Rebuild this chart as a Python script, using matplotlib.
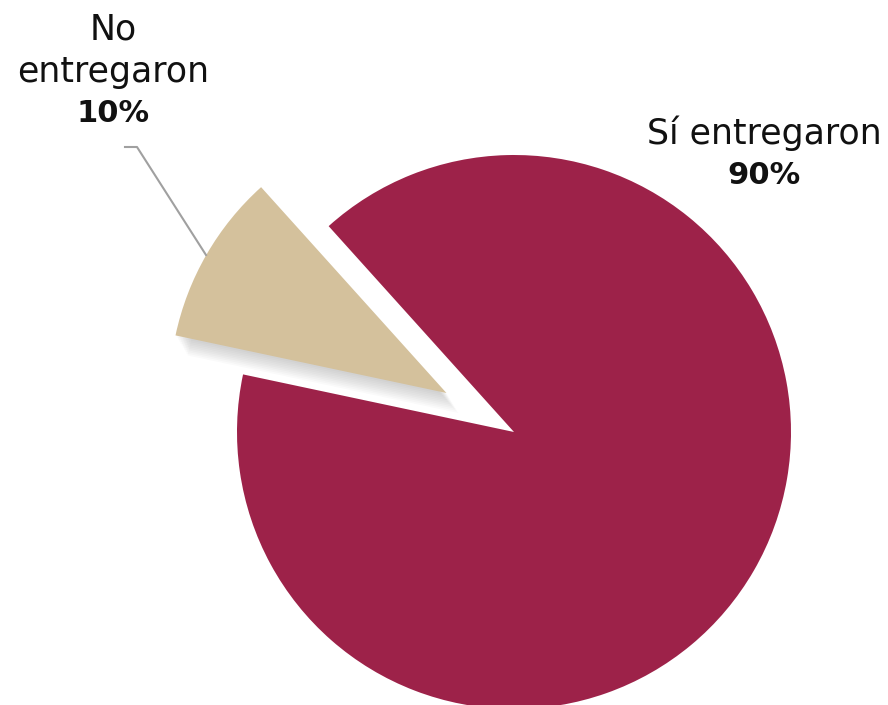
import matplotlib.pyplot as plt
from matplotlib.patches import Wedge

labels = ["No", "entregaron", "Sí entregaron"]
pcts = [10, 90]
colors = ["#D4C19C", "#9D2249"]

W, H = 888, 705
fig = plt.figure(figsize=(W / 100, H / 100), dpi=100)
ax = fig.add_axes([0, 0, 1, 1])

cx, cy, r = 514, H - 432, 277
start = 132
expl = 78

wedges, _ = ax.pie(pcts, colors=colors, startangle=start, counterclock=True,
                   explode=[expl, 0], center=(cx, cy), radius=r, frame=True,
                   wedgeprops=dict(linewidth=0))

# soft shadow under the small slice
w0 = wedges[0]
for i in range(10):
    d = 2 + i * 2
    sh = Wedge((w0.center[0] + d * 0.6, w0.center[1] - d), r, w0.theta1, w0.theta2,
               color="#808080", alpha=0.04, lw=0, zorder=0.5)
    ax.add_patch(sh)
for w in wedges:
    w.set_zorder(1)

ax.set_xlim(0, W)
ax.set_ylim(0, H)
ax.set_aspect("equal")
ax.axis("off")

font = "DejaVu Sans"
reg, bold = 25, 22
ax.text(113, H - 29, labels[0], ha="center", va="center", fontsize=reg, family=font, color="#111111")
ax.text(113, H - 72, labels[1], ha="center", va="center", fontsize=reg, family=font, color="#111111")
ax.text(113, H - 113, f"{pcts[0]}%", ha="center", va="center", fontsize=bold,
        family=font, fontweight="bold", color="#111111")
ax.text(764, H - 133, labels[2], ha="center", va="center", fontsize=reg, family=font, color="#111111")
ax.text(764, H - 175, f"{pcts[1]}%", ha="center", va="center", fontsize=bold,
        family=font, fontweight="bold", color="#111111")

ax.plot([125, 137, 206], [H - 147, H - 147, H - 255], color="#A0A0A0", lw=1.5, zorder=2)

fig.savefig("out.png", dpi=100)
